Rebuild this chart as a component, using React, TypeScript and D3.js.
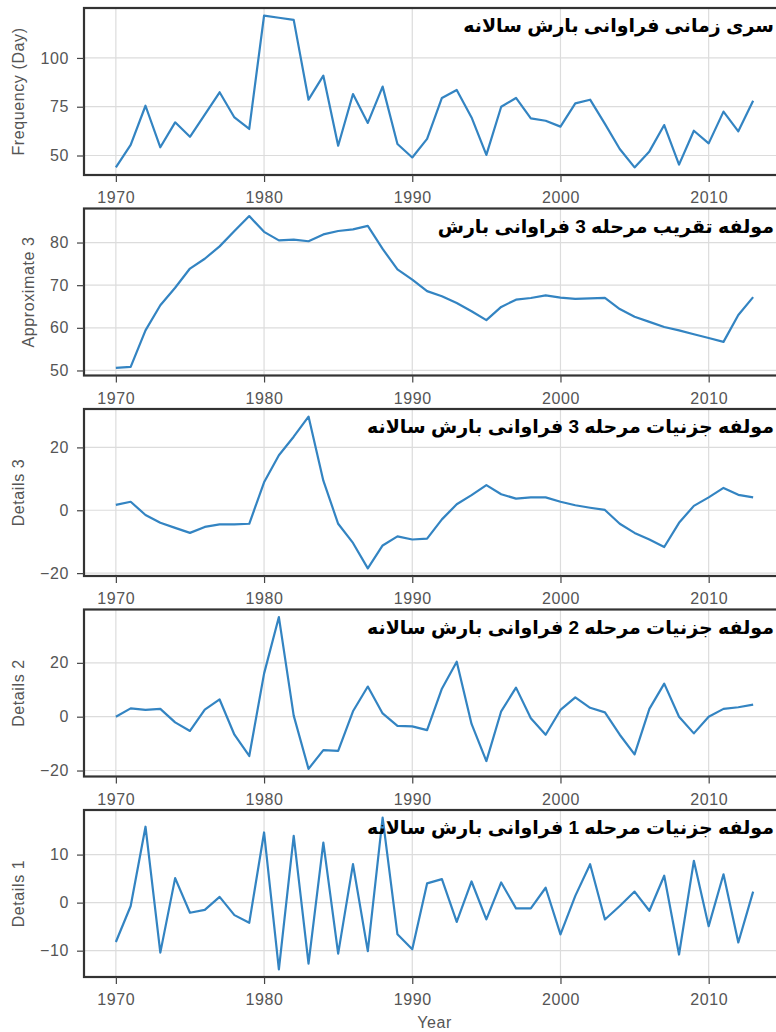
import React, { useEffect, useRef } from 'react';
import * as d3 from 'd3';

const years = [
  1970, 1971, 1972, 1973, 1974, 1975, 1976, 1977, 1978, 1979,
  1980, 1981, 1982, 1983, 1984, 1985, 1986, 1987, 1988, 1989,
  1990, 1991, 1992, 1993, 1994, 1995, 1996, 1997, 1998, 1999,
  2000, 2001, 2002, 2003, 2004, 2005, 2006, 2007, 2008, 2009,
  2010, 2011, 2012, 2013,
];

// annual precipitation frequency (days)
const frequency = [
  43.9, 55.5, 75.5, 54.2, 67, 59.6, 71, 82.4, 69.5, 63.6,
  121.7, 120.6, 119.5, 78.6, 90.9, 55, 81.5, 66.7, 85.3, 55.9,
  49, 58.5, 79.5, 83.6, 69.5, 50.3, 75, 79.5, 69, 67.8,
  64.8, 76.7, 78.6, 66.2, 53.3, 43.9, 52.1, 65.6, 45.3, 62.7,
  56.2, 72.5, 62.4, 78.1,
];

const approx3 = [
  50.6, 50.85, 59.4, 65.3, 69.4, 73.9, 76.2, 79.1, 82.7, 86.2,
  82.5, 80.5, 80.7, 80.3, 81.9, 82.7, 83.1, 83.9, 78.5, 73.7,
  71.3, 68.6, 67.4, 65.8, 63.9, 61.8, 64.9, 66.6, 67, 67.6,
  67.1, 66.8, 66.9, 67, 64.4, 62.6, 61.4, 60.2, 59.4, 58.5,
  57.6, 56.7, 63, 67.2,
];

const details3 = [
  1.7, 2.7, -1.5, -4, -5.6, -7.2, -5.3, -4.5, -4.5, -4.3,
  8.9, 17.5, 23.4, 29.8, 9.4, -4.3, -10.4, -18.5, -11.2, -8.3,
  -9.3, -9, -2.9, 1.9, 4.8, 8, 5.1, 3.7, 4.1, 4.1,
  2.7, 1.6, 0.8, 0.1, -4.3, -7.2, -9.3, -11.7, -4, 1.4,
  4.1, 7.1, 4.9, 4.1,
];

const details2 = [
  0, 3.1, 2.5, 2.9, -2.1, -5.3, 2.6, 6.4, -6.7, -14.6,
  16, 37, 0.4, -19.4, -12.4, -12.7, 2, 11.2, 1.2, -3.4,
  -3.6, -5, 10.4, 20.4, -2.7, -16.5, 2, 10.8, -0.6, -6.7,
  2.5, 7.2, 3.3, 1.6, -6.7, -14, 2.9, 12.3, 0, -6.2,
  0, 2.9, 3.5, 4.5,
];

const details1 = [
  -8.2, -0.7, 15.8, -10.4, 5.1, -2.1, -1.5, 1.2, -2.6, -4.2,
  14.6, -13.9, 13.9, -12.7, 12.5, -10.6, 8, -10.1, 17.7, -6.6,
  -9.7, 4, 4.9, -4, 4.4, -3.5, 4.2, -1.2, -1.2, 3.1,
  -6.6, 1.4, 8, -3.5, -0.7, 2.3, -1.7, 5.6, -10.8, 8.7,
  -4.9, 5.9, -8.3, 2.3,
];

const xTicks = [1970, 1980, 1990, 2000, 2010];

const titles = [
  'سری زمانی فراوانی بارش سالانه',
  'مولفه تقریب مرحله 3 فراوانی بارش',
  'مولفه جزنیات مرحله 3 فراوانی بارش سالانه',
  'مولفه جزنیات مرحله 2 فراوانی بارش سالانه',
  'مولفه جزنیات مرحله 1 فراوانی بارش سالانه',
];
const yLabels = ['Frequency (Day)', 'Approximate 3', 'Details 3', 'Details 2', 'Details 1'];
const yTicks = [
  [50, 75, 100],
  [50, 60, 70, 80],
  [-20, 0, 20],
  [-20, 0, 20],
  [-10, 0, 10],
];
const series = [frequency, approx3, details3, details2, details1];

const width = 776;
const height = 1032;

const FONT = "'Liberation Sans', Arial, sans-serif";
const LINE = '#3384c2';

const Chart = () => {
  const ref = useRef<SVGSVGElement>(null);

  useEffect(() => {
    const svg = d3.select(ref.current);
    svg.selectAll('*').remove();

    const left = 84;
    const right = 785; // frame runs off the picture on the right
    const panelH = 167;
    const step = 200.5;
    const top0 = 8;

    const xExt = d3.extent(years) as [number, number];
    const xPad = (xExt[1] - xExt[0]) * 0.05;
    const x = d3.scaleLinear().domain([xExt[0] - xPad, xExt[1] + xPad]).range([left, right]);

    series.forEach((values, i) => {
      const top = top0 + i * step;
      const bottom = top + panelH;
      const [lo, hi] = d3.extent(values) as [number, number];
      const pad = (hi - lo) * 0.05;
      const y = d3.scaleLinear().domain([lo - pad, hi + pad]).range([bottom, top]);

      const g = svg.append('g');

      // grid
      g.append('g')
        .selectAll('line')
        .data(xTicks)
        .join('line')
        .attr('x1', (d) => x(d))
        .attr('x2', (d) => x(d))
        .attr('y1', top)
        .attr('y2', bottom)
        .attr('stroke', '#dcdcdc')
        .attr('stroke-width', 1.2);
      g.append('g')
        .selectAll('line')
        .data(yTicks[i])
        .join('line')
        .attr('x1', left)
        .attr('x2', right)
        .attr('y1', (d) => y(d))
        .attr('y2', (d) => y(d))
        .attr('stroke', '#dcdcdc')
        .attr('stroke-width', 1.2);

      // series line
      const line = d3
        .line<number>()
        .x((_, k) => x(years[k]))
        .y((d) => y(d));
      g.append('path')
        .datum(values)
        .attr('fill', 'none')
        .attr('stroke', LINE)
        .attr('stroke-width', 2.2)
        .attr('stroke-linejoin', 'round')
        .attr('d', line);

      // frame
      g.append('rect')
        .attr('x', left)
        .attr('y', top)
        .attr('width', right - left)
        .attr('height', panelH)
        .attr('fill', 'none')
        .attr('stroke', '#333')
        .attr('stroke-width', 2.2);

      // x axis
      const xa = g
        .append('g')
        .attr('transform', `translate(0,${bottom})`)
        .call(d3.axisBottom(x).tickValues(xTicks).tickFormat(d3.format('d')).tickSize(7).tickPadding(10));
      xa.select('.domain').remove();
      xa.selectAll('line').attr('stroke', '#444').attr('stroke-width', 1.2);
      xa.selectAll('text')
        .attr('fill', '#555')
        .style('font-family', FONT)
        .style('font-size', '16px')
        .style('letter-spacing', '0.6px');

      // y axis
      const ya = g
        .append('g')
        .attr('transform', `translate(${left},0)`)
        .call(d3.axisLeft(y).tickValues(yTicks[i]).tickSize(7).tickPadding(8));
      ya.select('.domain').remove();
      ya.selectAll('line').attr('stroke', '#444').attr('stroke-width', 1.2);
      ya.selectAll('text')
        .attr('fill', '#555')
        .style('font-family', FONT)
        .style('font-size', '16px')
        .style('letter-spacing', '0.6px');

      // y label sits left of the widest tick label, like matplotlib
      const box = (ya.node() as SVGGElement).getBBox();
      const lx = left + box.x - 22;
      g.append('text')
        .attr('transform', `translate(${lx},${(top + bottom) / 2}) rotate(-90)`)
        .attr('text-anchor', 'middle')
        .attr('dy', '0.35em')
        .attr('fill', '#555')
        .style('font-family', FONT)
        .style('font-size', '16px')
        .style('letter-spacing', '0.6px')
        .text(yLabels[i]);

      // panel title (Persian), top right inside the frame
      g.append('text')
        .attr('x', 774)
        .attr('y', top + 24)
        .attr('text-anchor', 'end')
        .attr('fill', '#000')
        .style('font-family', "'Liberation Sans', 'DejaVu Sans', sans-serif")
        .style('font-weight', 'bold')
        .style('font-size', '19px')
        .text(titles[i]);

      if (i === series.length - 1) {
        g.append('text')
          .attr('x', (left + right) / 2)
          .attr('y', bottom + 51)
          .attr('text-anchor', 'middle')
          .attr('fill', '#555')
          .style('font-family', FONT)
          .style('font-size', '16px')
          .style('letter-spacing', '0.6px')
          .text('Year');
      }
    });
  }, []);

  return <svg ref={ref} width={width} height={height} style={{ display: 'block', background: '#fff' }} />;
};

export default function App() {
  return (
    <div style={{ position: 'absolute', left: 0, top: 0 }}>
      <Chart />
    </div>
  );
}
